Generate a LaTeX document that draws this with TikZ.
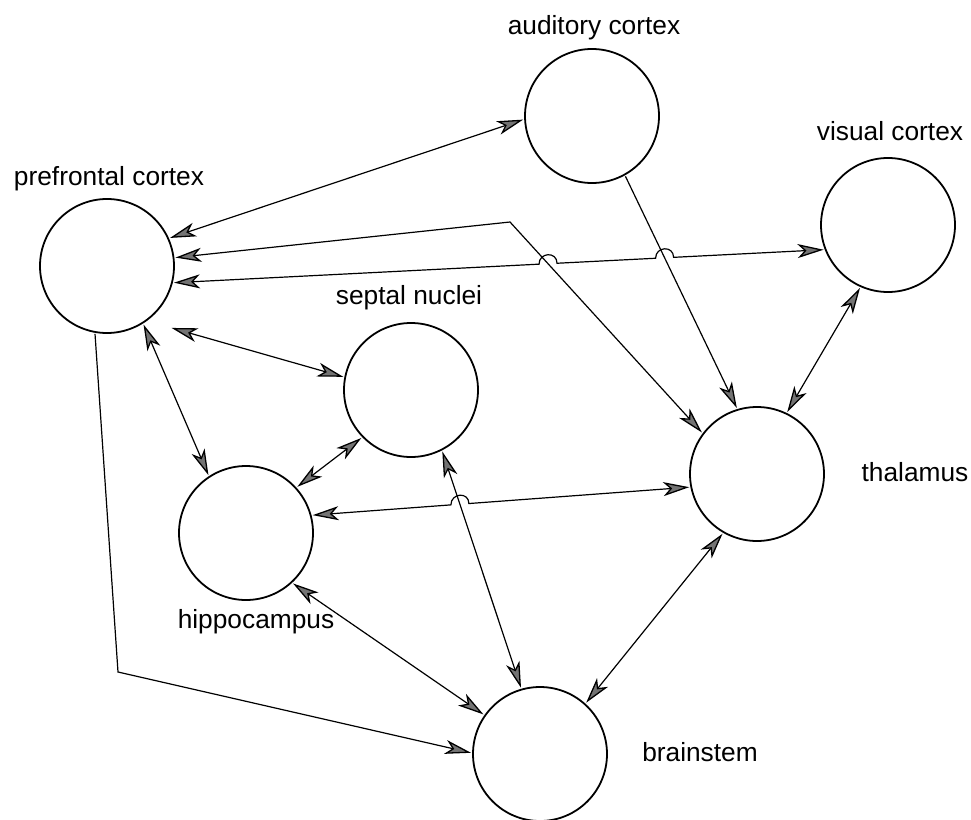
\documentclass[tikz,border=0pt]{standalone}
\usepackage{fontspec}
\setmainfont{Liberation Sans}
\usetikzlibrary{arrows.meta,calc,intersections}
\begin{document}
\begin{tikzpicture}[x=1pt,y=-1pt,
  region/.style={circle,draw,line width=1.8pt,minimum size=134pt,inner sep=0pt,outer sep=2pt},
  lab/.style={font=\fontsize{26.3}{30}\selectfont,anchor=base,inner sep=0pt},
  link/.style={line width=1.2pt},
  gtip/.tip={Stealth[length=26pt,width=14pt,inset=7pt,fill=black!55,line width=1.3pt]},
  dbl/.style={link,gtip-gtip},
  sgl/.style={link,-gtip}
]
\fill[white] (0,0) rectangle (971,819);
\path[use as bounding box] (0,0) rectangle (971,819);

% regions
\node[region] (aud)  at (592,116) {};
\node[region] (vis)  at (888,225) {};
\node[region] (pfc)  at (107,266) {};
\node[region] (sep)  at (411,390) {};
\node[region] (thal) at (757,474) {};
\node[region] (hip)  at (246,533) {};
\node[region] (bs)   at (540,754) {};

% labels
\node[lab] (laud)  at (594,34)  {auditory cortex};
\node[lab] (lvis)  at (890,140) {visual cortex};
\node[lab] (lpfc)  at (109,185) {prefrontal cortex};
\node[lab] (lsep)  at (409,304) {septal nuclei};
\node[lab] (lthal) at (915,481) {thalamus};
\node[lab] (lhip)  at (256,628) {hippocampus};
\node[lab] (lbs)   at (700,761) {brainstem};

% bend points
\coordinate (bendT) at (510,222);
\coordinate (bendB) at (118,672);

% crossing points (for hops)
\path[name path=pv]  (pfc.-14) -- (vis.201.6);
\path[name path=ptb] (bendT) -- (thal.143);
\path[name path=at]  (aud.-61.6) -- (thal.107);
\path[name path=ht]  (hip.15) -- (thal.191);
\path[name path=sb]  (sep.297) -- (bs.106);
\path[name intersections={of=pv and ptb,by=h1}];
\path[name intersections={of=pv and at,by=h2}];
\path[name intersections={of=ht and sb,by=h3}];

% connectors
\draw[dbl] (pfc.24) -- (aud.183);
\draw[dbl] (pfc.7) -- (bendT) -- (thal.143);
\draw[dbl] (pfc.-14) -- ($(h1)!9pt!(pfc.-14)$)
   .. controls +(0,-12) and +(0,-12) .. ($(h1)!9pt!(vis.201.6)$)
   -- ($(h2)!9pt!(pfc.-14)$)
   .. controls +(0,-12) and +(0,-12) .. ($(h2)!9pt!(vis.201.6)$)
   -- (vis.201.6);
\draw[dbl] ([shift={(15,14)}]pfc.-44) -- (sep.169);
\draw[dbl] (pfc.-58.6) -- (hip.123);
\draw[sgl] (pfc.-100) -- (bendB) -- (bs.179);
\draw[sgl] (aud.-61.6) -- (thal.107);
\draw[dbl] (vis.246) -- (thal.64);
\draw[dbl] (sep.224) -- (hip.42.7);
\draw[dbl] (hip.15) -- ($(h3)!9pt!(hip.15)$)
   .. controls +(0,-12) and +(0,-12) .. ($(h3)!9pt!(thal.191)$)
   -- (thal.191);
\draw[dbl] (sep.297) -- (bs.106);
\draw[dbl] (hip.-47) -- (bs.145);
\draw[dbl] (thal.240) -- (bs.48.5);
\end{tikzpicture}
\end{document}
